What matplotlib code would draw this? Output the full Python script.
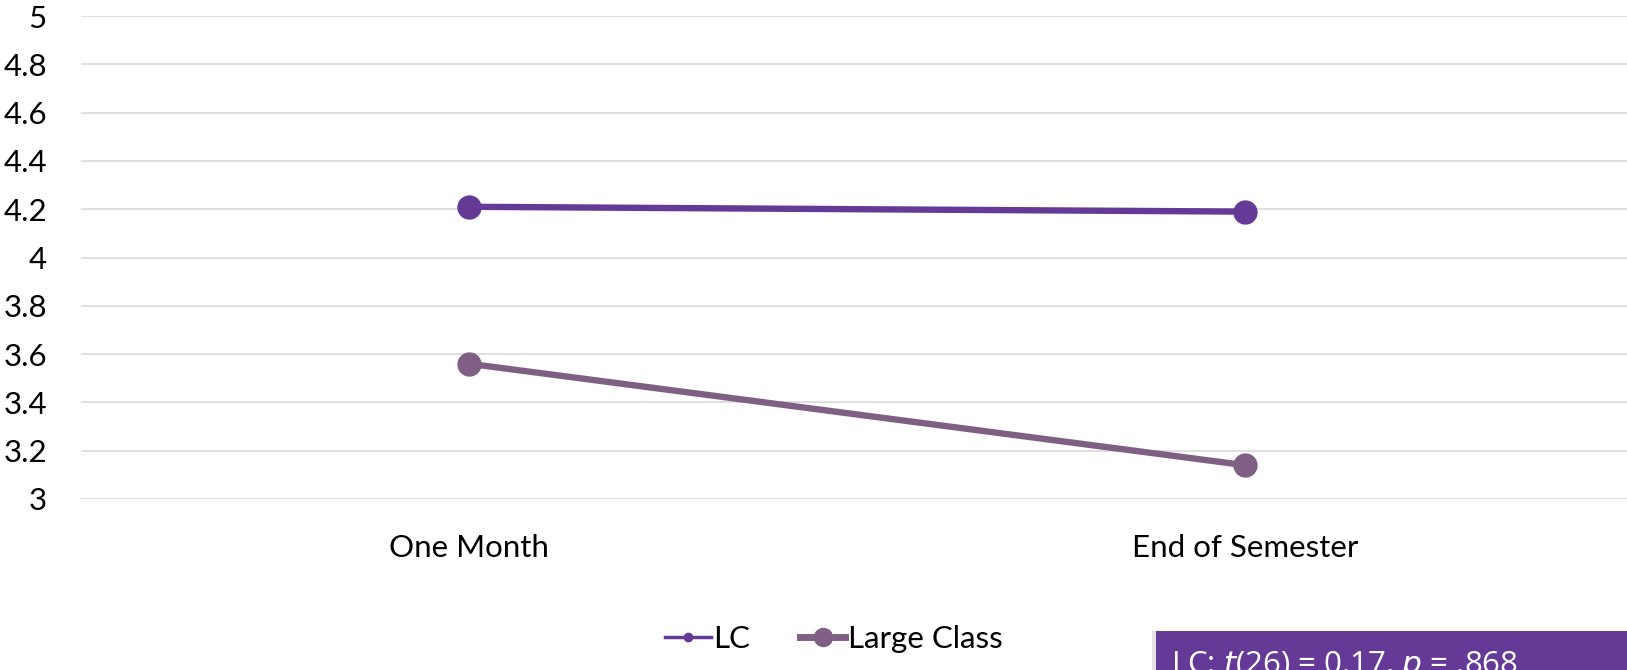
import matplotlib.pyplot as plt
from matplotlib.lines import Line2D
from matplotlib.patches import Rectangle

plt.rcParams["font.family"] = ["Lato", "DejaVu Sans"]

# mean scores per time point
categories = ["One Month", "End of Semester"]
lc_values = [4.21, 4.19]
large_class_values = [3.56, 3.14]
y_ticks = [3, 3.2, 3.4, 3.6, 3.8, 4, 4.2, 4.4, 4.6, 4.8, 5]

LC_COLOR = "#653A96"
LARGE_COLOR = "#7F6084"
FS = 22.5

fig = plt.figure(figsize=(16.27, 6.70), dpi=100)
ax = fig.add_axes([81 / 1627, 1 - 499 / 670, 1552 / 1627, 483 / 670])

x = list(range(len(categories)))
ax.plot(x, lc_values, color=LC_COLOR, lw=4.6, marker="o", ms=16.5, zorder=3)
ax.plot(x, large_class_values, color=LARGE_COLOR, lw=4.6, marker="o", ms=16.5, zorder=3)

ax.set_xlim(-0.5, 1.5)
ax.set_ylim(3, 5)
ax.set_yticks(y_ticks)
ax.set_yticklabels([f"{t:g}" for t in y_ticks])
ax.set_xticks(x)
ax.set_xticklabels(categories)
ax.tick_params(axis="both", length=0, labelsize=FS, colors="black")
ax.tick_params(axis="x", pad=25)
ax.tick_params(axis="y", pad=24.5)
ax.grid(axis="y", color="#D9D9D9", lw=1.2)
for s in ax.spines.values():
    s.set_visible(False)
ax.set_axisbelow(True)

handles = [
    Line2D([], [], color=LC_COLOR, lw=2.5, marker="o", ms=6),
    Line2D([], [], color=LARGE_COLOR, lw=5, marker="o", ms=13),
]
fig.legend(handles, ["LC", "Large Class"], loc="center",
           bbox_to_anchor=(834 / 1627, 1 - 639 / 670), ncol=2, frameon=False,
           fontsize=FS, handlelength=1.45, handletextpad=0.08, columnspacing=1.6,
           borderpad=0, borderaxespad=0)

# stats box in the lower right corner
fig.patches.append(Rectangle((1152 / 1627, -0.01), 0.4, 46 / 670,
                             transform=fig.transFigure, facecolor="#C8C8C8",
                             alpha=0.5, edgecolor="none", zorder=4))
fig.patches.append(Rectangle((1156 / 1627, -0.01), 0.4, 45.7 / 670,
                             transform=fig.transFigure, facecolor=LC_COLOR,
                             edgecolor="none", zorder=5))
fig.text(1171 / 1627, -3 / 670, r"LC: $\it{t}$(26) = 0.17, $\it{p}$ = .868",
         color="white", fontsize=22.5, va="baseline", ha="left", zorder=6,
         family=["Open Sans", "DejaVu Sans"])

fig.savefig("out.png", dpi=100)
